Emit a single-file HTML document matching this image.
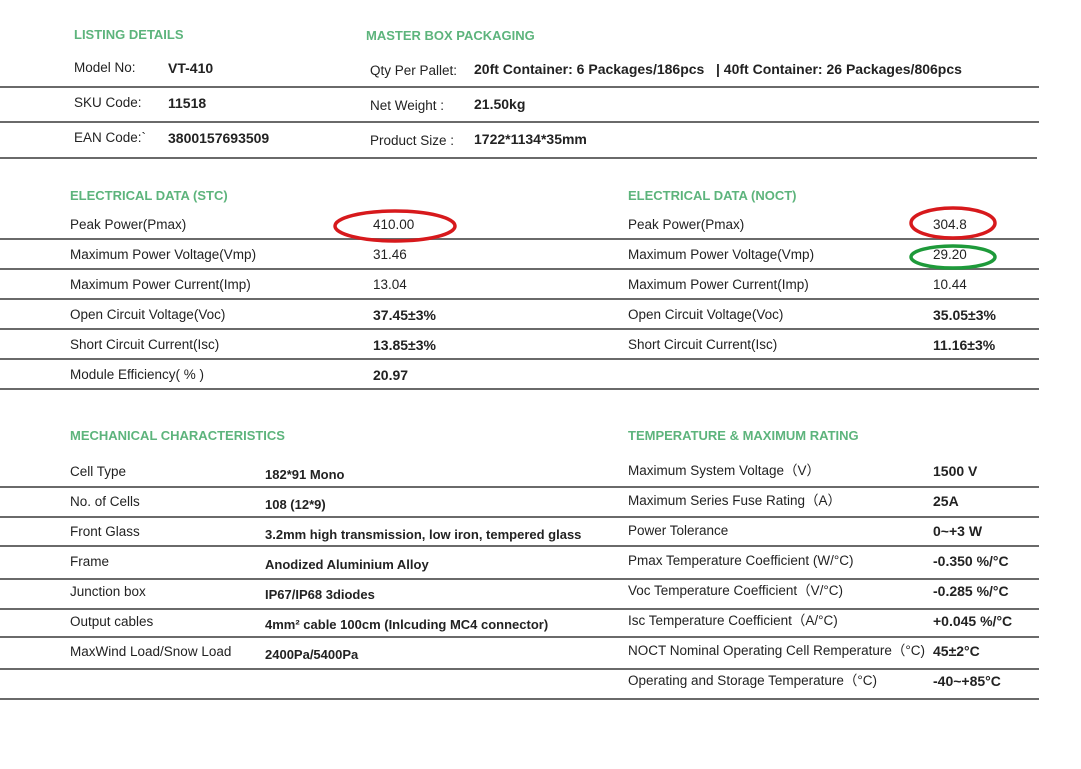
<!DOCTYPE html>
<html><head><meta charset="utf-8"><style>
body{margin:0;width:1081px;height:769px;background:#fff;position:relative;overflow:hidden;font-family:"Liberation Sans","Noto Sans CJK SC",sans-serif;color:#222;}
.t{position:absolute;font-size:13.5px;line-height:18px;white-space:nowrap;}
.h{position:absolute;font-size:13px;line-height:18px;font-weight:bold;color:#5db47c;white-space:nowrap;}
.b{font-weight:bold;font-size:14px;}
.m{font-size:13px;}
.l{position:absolute;height:2px;background:#6a6a6a;left:0;}
</style></head><body>
<div class="h" style="left:74px;top:26px">LISTING DETAILS</div>
<div class="h" style="left:366px;top:27px">MASTER BOX PACKAGING</div>
<div class="t" style="left:74px;top:59px">Model No:</div><div class="t b" style="left:168px;top:59px">VT-410</div>
<div class="t" style="left:370px;top:62px">Qty Per Pallet:</div><div class="t b" style="left:474px;top:60px">20ft Container: 6 Packages/186pcs &nbsp;&nbsp;| 40ft Container: 26 Packages/806pcs</div>
<div class="l" style="top:86px;width:1039px"></div>
<div class="t" style="left:74px;top:94px">SKU Code:</div><div class="t b" style="left:168px;top:94px">11518</div>
<div class="t" style="left:370px;top:97px">Net Weight :</div><div class="t b" style="left:474px;top:95px">21.50kg</div>
<div class="l" style="top:121px;width:1039px"></div>
<div class="t" style="left:74px;top:129px">EAN Code:`</div><div class="t b" style="left:168px;top:129px">3800157693509</div>
<div class="t" style="left:370px;top:132px">Product Size :</div><div class="t b" style="left:474px;top:130px">1722*1134*35mm</div>
<div class="l" style="top:157px;width:1037px"></div>

<div class="h" style="left:70px;top:187px">ELECTRICAL DATA (STC)</div>
<div class="h" style="left:628px;top:187px">ELECTRICAL DATA (NOCT)</div>
<div class="t" style="left:70px;top:216px">Peak Power(Pmax)</div><div class="t" style="left:373px;top:216px">410.00</div>
<div class="t" style="left:628px;top:216px">Peak Power(Pmax)</div><div class="t" style="left:933px;top:216px">304.8</div>
<div class="l" style="top:238px;width:1039px"></div>
<div class="t" style="left:70px;top:246px">Maximum Power Voltage(Vmp)</div><div class="t" style="left:373px;top:246px">31.46</div>
<div class="t" style="left:628px;top:246px">Maximum Power Voltage(Vmp)</div><div class="t" style="left:933px;top:246px">29.20</div>
<div class="l" style="top:268px;width:1039px"></div>
<div class="t" style="left:70px;top:276px">Maximum Power Current(Imp)</div><div class="t" style="left:373px;top:276px">13.04</div>
<div class="t" style="left:628px;top:276px">Maximum Power Current(Imp)</div><div class="t" style="left:933px;top:276px">10.44</div>
<div class="l" style="top:298px;width:1039px"></div>
<div class="t" style="left:70px;top:306px">Open Circuit Voltage(Voc)</div><div class="t b" style="left:373px;top:306px">37.45±3%</div>
<div class="t" style="left:628px;top:306px">Open Circuit Voltage(Voc)</div><div class="t b" style="left:933px;top:306px">35.05±3%</div>
<div class="l" style="top:328px;width:1039px"></div>
<div class="t" style="left:70px;top:336px">Short Circuit Current(Isc)</div><div class="t b" style="left:373px;top:336px">13.85±3%</div>
<div class="t" style="left:628px;top:336px">Short Circuit Current(Isc)</div><div class="t b" style="left:933px;top:336px">11.16±3%</div>
<div class="l" style="top:358px;width:1039px"></div>
<div class="t" style="left:70px;top:366px">Module Efficiency( % )</div><div class="t b" style="left:373px;top:366px">20.97</div>
<div class="l" style="top:388px;width:1039px"></div>

<div class="h" style="left:70px;top:427px">MECHANICAL CHARACTERISTICS</div>
<div class="h" style="left:628px;top:427px">TEMPERATURE &amp; MAXIMUM RATING</div>
<div class="t" style="left:70px;top:463px">Cell Type</div><div class="t b m" style="left:265px;top:466px">182*91 Mono</div>
<div class="t" style="left:70px;top:493px">No. of Cells</div><div class="t b m" style="left:265px;top:496px">108 (12*9)</div>
<div class="t" style="left:70px;top:523px">Front Glass</div><div class="t b m" style="left:265px;top:526px">3.2mm high transmission, low iron, tempered glass</div>
<div class="t" style="left:70px;top:553px">Frame</div><div class="t b m" style="left:265px;top:556px">Anodized Aluminium Alloy</div>
<div class="t" style="left:70px;top:583px">Junction box</div><div class="t b m" style="left:265px;top:586px">IP67/IP68 3diodes</div>
<div class="t" style="left:70px;top:613px">Output cables</div><div class="t b m" style="left:265px;top:616px">4mm² cable 100cm (Inlcuding MC4 connector)</div>
<div class="t" style="left:70px;top:643px">MaxWind Load/Snow Load</div><div class="t b m" style="left:265px;top:646px">2400Pa/5400Pa</div>

<div class="t" style="left:628px;top:462px">Maximum System Voltage（V）</div><div class="t b" style="left:933px;top:462px">1500 V</div>
<div class="t" style="left:628px;top:492px">Maximum Series Fuse Rating（A）</div><div class="t b" style="left:933px;top:492px">25A</div>
<div class="t" style="left:628px;top:522px">Power Tolerance</div><div class="t b" style="left:933px;top:522px">0~+3 W</div>
<div class="t" style="left:628px;top:552px">Pmax Temperature Coefficient (W/°C)</div><div class="t b" style="left:933px;top:552px">-0.350 %/°C</div>
<div class="t" style="left:628px;top:582px">Voc Temperature Coefficient（V/°C)</div><div class="t b" style="left:933px;top:582px">-0.285 %/°C</div>
<div class="t" style="left:628px;top:612px">Isc Temperature Coefficient（A/°C)</div><div class="t b" style="left:933px;top:612px">+0.045 %/°C</div>
<div class="t" style="left:628px;top:642px">NOCT Nominal Operating Cell Remperature（°C)</div><div class="t b" style="left:933px;top:642px">45±2°C</div>
<div class="t" style="left:628px;top:672px">Operating and Storage Temperature（°C)</div><div class="t b" style="left:933px;top:672px">-40~+85°C</div>

<div class="l" style="top:486px;width:1039px"></div>
<div class="l" style="top:516px;width:1039px"></div>
<div class="l" style="top:545px;width:1039px"></div>
<div class="l" style="top:578px;width:1039px"></div>
<div class="l" style="top:608px;width:1039px"></div>
<div class="l" style="top:636px;width:1039px"></div>
<div class="l" style="top:668px;width:1039px"></div>
<div class="l" style="top:698px;width:1039px"></div>

<svg width="1081" height="769" style="position:absolute;left:0;top:0">
<ellipse cx="395" cy="226" rx="60" ry="15" fill="none" stroke="#d7191c" stroke-width="3.5"/>
<ellipse cx="953" cy="223" rx="42" ry="15" fill="none" stroke="#d7191c" stroke-width="3.5"/>
<ellipse cx="953" cy="257" rx="42" ry="11" fill="none" stroke="#1e9a3a" stroke-width="3.5"/>
</svg>
</body></html>
